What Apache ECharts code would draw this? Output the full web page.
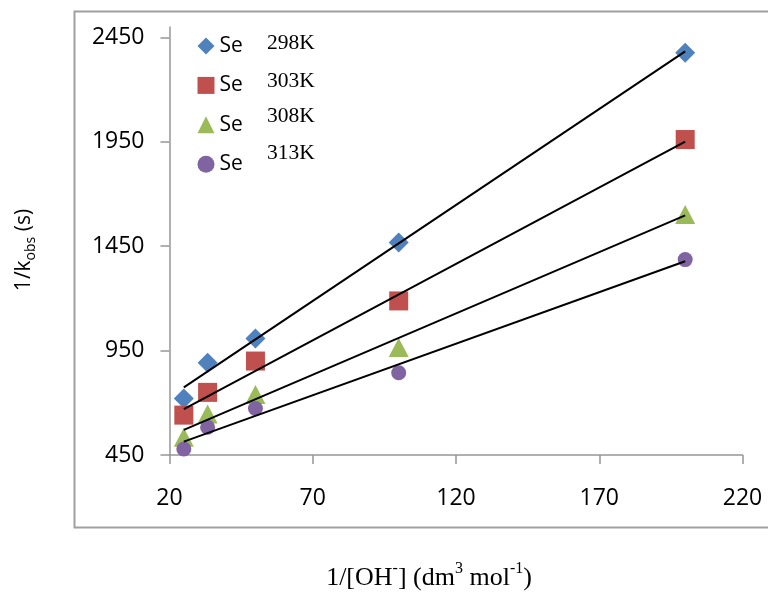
<!DOCTYPE html>
<html><head><meta charset="utf-8">
<script src="https://cdn.jsdelivr.net/npm/echarts@6/dist/echarts.min.js"></script>
<style>html,body{margin:0;padding:0;background:#fff}#c{width:768px;height:592px}</style>
</head><body><div id="c"></div>
<script>
const xValues = [25, 33.3, 50, 100, 200];
const se298 = [721, 892, 1008, 1468, 2377];
const se303 = [641, 750, 900, 1188, 1961];
const se308 = [535, 646, 740, 965, 1602];
const se313 = [479, 583, 673, 844, 1386];
const fitX = [25, 200];
const fit298 = [774, 2383];
const fit303 = [670, 1951];
const fit308 = [570, 1598];
const fit313 = [514, 1378];
const xTicks = [20, 70, 120, 170, 220];
const yTicks = [450, 950, 1450, 1950, 2450];
const tempLabels = ['298K', '303K', '308K', '313K'];

const colors = ['#4F81BD', '#C0504D', '#9BBB59', '#8064A2'];
const symbols = ['diamond', 'rect', 'triangle', 'circle'];
const sizes = [20, 19, [20, 19], 15];
const vals = [se298, se303, se308, se313];
const fits = [fit298, fit303, fit308, fit313];

const chart = echarts.init(document.getElementById('c'), null, {renderer: 'canvas'});
const series = [];
vals.forEach((v, i) => {
  series.push({
    name: tempLabels[i], type: 'scatter', symbol: symbols[i], symbolSize: sizes[i],
    itemStyle: {color: colors[i], opacity: 1},
    data: xValues.map((x, k) => [x, v[k]]), z: 2
  });
});
fits.forEach((f, i) => {
  series.push({
    name: 'fit' + tempLabels[i], type: 'line', symbol: 'none', silent: true,
    lineStyle: {color: '#000', width: 2}, z: 3,
    data: fitX.map((x, k) => [x, f[k]])
  });
});
const axisColor = '#969696';
const font = '"Open Sans", sans-serif';
const serif = '"Liberation Serif", serif';
const tempY = [43, 81, 116, 153];
const graphics = [
  {type: 'rect', shape: {x: 74.5, y: 11.5, width: 720, height: 516},
   style: {fill: 'none', stroke: '#a0a0a0', lineWidth: 2}, z: 0, silent: true},
  {type: 'text', x: 429, y: 578, style: {
    text: '{m|1/[OH}{s|-}{m|] (dm}{s|3}{m| mol}{s|-1}{m|)}',
    textAlign: 'center', textVerticalAlign: 'middle',
    rich: {
      m: {fontFamily: serif, fontSize: 26, lineHeight: 34, fill: '#000'},
      s: {fontFamily: serif, fontSize: 16, lineHeight: 16, verticalAlign: 'top', fill: '#000'}
    }}},
  {type: 'text', x: 24, y: 250, rotation: Math.PI / 2, style: {
    text: '{m|1/k}{s|obs}{m| (s)}',
    textAlign: 'center', textVerticalAlign: 'middle',
    rich: {
      m: {fontFamily: font, fontSize: 21, lineHeight: 28, fill: '#000'},
      s: {fontFamily: font, fontSize: 14, lineHeight: 14, verticalAlign: 'bottom', fill: '#000'}
    }}}
];
tempLabels.forEach((t, i) => {
  graphics.push({type: 'text', x: 267, y: tempY[i], style: {
    text: t, fontFamily: serif, fontSize: 21.5, fill: '#000',
    textAlign: 'left', textVerticalAlign: 'middle'}});
});

chart.setOption({
  animation: false,
  backgroundColor: '#fff',
  grid: {left: 169.5, right: 25.5, top: 27, bottom: 137, containLabel: false},
  xAxis: {
    type: 'value', min: 20, max: 220,
    axisLine: {show: true, onZero: false, lineStyle: {color: axisColor, width: 1.5}},
    axisTick: {show: true, inside: false, length: 9, customValues: xTicks, lineStyle: {color: axisColor, width: 1.5}},
    axisLabel: {customValues: xTicks, margin: 32, fontFamily: font, fontSize: 23, color: '#000',
      formatter: v => String(v)},
    splitLine: {show: false}
  },
  yAxis: {
    type: 'value', min: 450, max: 2500,
    axisLine: {show: true, onZero: false, lineStyle: {color: axisColor, width: 1.5}},
    axisTick: {show: true, inside: false, length: 9, customValues: yTicks, lineStyle: {color: axisColor, width: 1.5}},
    axisLabel: {customValues: yTicks, margin: 25, fontFamily: font, fontSize: 23, color: '#000',
      formatter: v => String(v)},
    splitLine: {show: false}
  },
  legend: {
    show: true, orient: 'vertical', left: 197.5, top: 35, padding: 0,
    itemWidth: 17, itemHeight: 17, itemGap: 17.4,
    data: tempLabels.map((n, i) => ({name: n, icon: symbols[i]})),
    formatter: () => 'Se',
    textStyle: {fontFamily: font, fontSize: 21, lineHeight: 22, color: '#000'}
  },
  graphic: graphics,
  series: series
});
</script>
</body></html>
